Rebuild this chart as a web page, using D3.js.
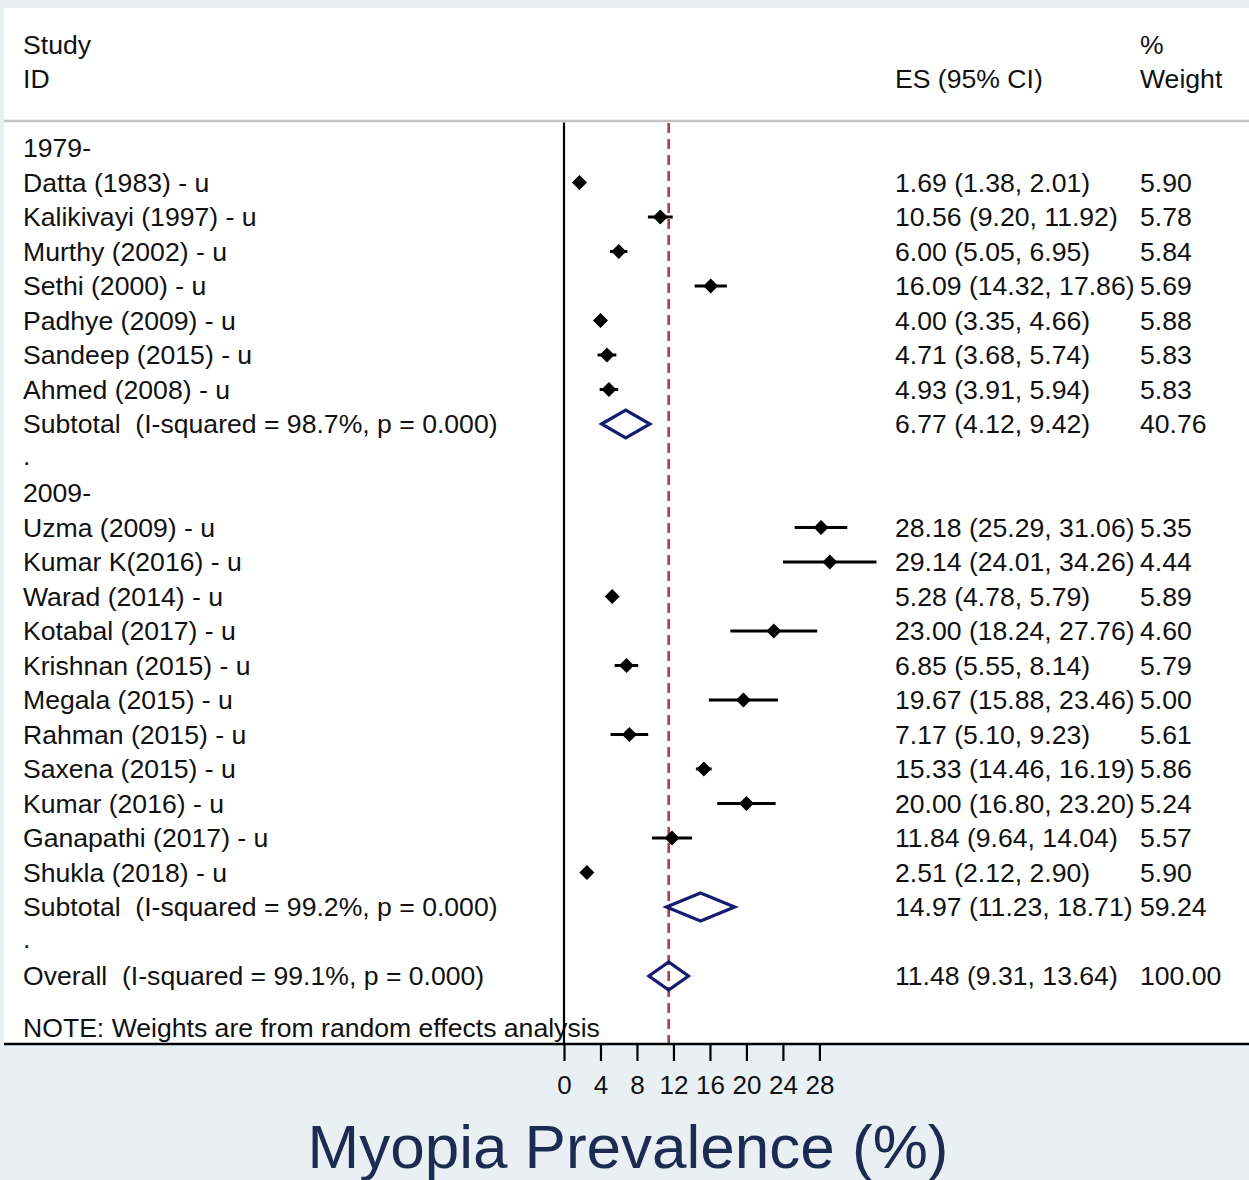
<!DOCTYPE html>
<html>
<head>
<meta charset="utf-8">
<script src="https://cdn.jsdelivr.net/npm/d3@7"></script>
<style>
html,body{margin:0;padding:0;background:#e8f0f3;}
svg{display:block;}
text{font-family:"Liberation Sans",Arial,sans-serif;fill:#111;white-space:pre;}
</style>
</head>
<body>
<svg id="chart" width="1249" height="1180"></svg>
<script>
// ---- data ----
const rowLabels = [
  "1979-",
  "Datta (1983) - u",
  "Kalikivayi (1997) - u",
  "Murthy (2002) - u",
  "Sethi (2000) - u",
  "Padhye (2009) - u",
  "Sandeep (2015) - u",
  "Ahmed (2008) - u",
  "Subtotal  (I-squared = 98.7%, p = 0.000)",
  ".",
  "2009-",
  "Uzma (2009) - u",
  "Kumar K(2016) - u",
  "Warad (2014) - u",
  "Kotabal (2017) - u",
  "Krishnan (2015) - u",
  "Megala (2015) - u",
  "Rahman (2015) - u",
  "Saxena (2015) - u",
  "Kumar (2016) - u",
  "Ganapathi (2017) - u",
  "Shukla (2018) - u",
  "Subtotal  (I-squared = 99.2%, p = 0.000)",
  ".",
  "Overall  (I-squared = 99.1%, p = 0.000)"
];
// type: h = heading, s = study, d = subtotal/overall diamond, b = blank
const rowTypes = ["h","s","s","s","s","s","s","s","d","b","h","s","s","s","s","s","s","s","s","s","s","s","d","b","d"];
const esValues  = [null,1.69,10.56,6.00,16.09,4.00,4.71,4.93,6.77,null,null,28.18,29.14,5.28,23.00,6.85,19.67,7.17,15.33,20.00,11.84,2.51,14.97,null,11.48];
const ciLower   = [null,1.38,9.20,5.05,14.32,3.35,3.68,3.91,4.12,null,null,25.29,24.01,4.78,18.24,5.55,15.88,5.10,14.46,16.80,9.64,2.12,11.23,null,9.31];
const ciUpper   = [null,2.01,11.92,6.95,17.86,4.66,5.74,5.94,9.42,null,null,31.06,34.26,5.79,27.76,8.14,23.46,9.23,16.19,23.20,14.04,2.90,18.71,null,13.64];
const weights   = [null,5.90,5.78,5.84,5.69,5.88,5.83,5.83,40.76,null,null,5.35,4.44,5.89,4.60,5.79,5.00,5.61,5.86,5.24,5.57,5.90,59.24,null,100.00];
const overallES = 11.48;
const xTicks = [0,4,8,12,16,20,24,28];
const noteText = "NOTE: Weights are from random effects analysis";
const axisTitle = "Myopia Prevalence (%)";

// ---- layout ----
const svg = d3.select("#chart");
const W = 1249, H = 1180;
const fs = 26.6;
const panelTop = 8, panelLeft = 4, axisY = 1044, sepY = 121;

const x = d3.scaleLinear().domain([0, 28]).range([564, 819.4]);
const y = d3.scaleLinear().domain([0, 24]).range([148, 976]);
const f2 = d3.format(".2f");

// panel
svg.append("rect").attr("x", panelLeft).attr("y", panelTop)
  .attr("width", W - panelLeft).attr("height", axisY - panelTop).attr("fill", "#fff");

// header separator
svg.append("line").attr("x1", panelLeft).attr("x2", W).attr("y1", sepY).attr("y2", sepY)
  .attr("stroke", "#c4c4c4").attr("stroke-width", 2.5);

// headers
const hdr = [
  {t:"Study", x:23, y:45}, {t:"ID", x:23, y:79},
  {t:"ES (95% CI)", x:895, y:79},
  {t:"%", x:1140, y:45}, {t:"Weight", x:1140, y:79}
];
svg.append("g").selectAll("text").data(hdr).join("text")
  .attr("x", d => d.x).attr("y", d => d.y + 9).attr("font-size", fs).text(d => d.t);

// row indices
const idx = d3.range(rowLabels.length);

// labels
svg.append("g").selectAll("text").data(idx).join("text")
  .attr("x", 23).attr("y", i => y(i) + 9 - (rowTypes[i] === "b" ? 3 : 0))
  .attr("xml:space", "preserve")
  .attr("font-size", fs).text(i => rowLabels[i]);

// ES text and weight
const dataIdx = idx.filter(i => esValues[i] !== null);
svg.append("g").selectAll("text").data(dataIdx).join("text")
  .attr("x", 895).attr("y", i => y(i) + 9).attr("font-size", fs)
  .text(i => `${f2(esValues[i])} (${f2(ciLower[i])}, ${f2(ciUpper[i])})`);
svg.append("g").selectAll("text").data(dataIdx).join("text")
  .attr("x", 1140).attr("y", i => y(i) + 9).attr("font-size", fs)
  .text(i => f2(weights[i]));

// note
svg.append("text").attr("x", 23).attr("y", 1028 + 9).attr("font-size", fs).text(noteText);

// vertical zero line
svg.append("line").attr("x1", x(0)).attr("x2", x(0)).attr("y1", sepY + 1.5).attr("y2", axisY)
  .attr("stroke", "#000").attr("stroke-width", 2.2);

// overall dashed line
svg.append("line").attr("x1", x(overallES)).attr("x2", x(overallES)).attr("y1", sepY + 2).attr("y2", axisY)
  .attr("stroke", "#a3404a").attr("stroke-width", 2.6).attr("stroke-dasharray", "10,6");

// study CIs and markers
const studyIdx = idx.filter(i => rowTypes[i] === "s");
svg.append("g").selectAll("line").data(studyIdx).join("line")
  .attr("x1", i => x(ciLower[i])).attr("x2", i => x(ciUpper[i]))
  .attr("y1", i => y(i)).attr("y2", i => y(i))
  .attr("stroke", "#000").attr("stroke-width", 3);
const dm = 7.5;
svg.append("g").selectAll("path").data(studyIdx).join("path")
  .attr("d", i => {
    const cx = x(esValues[i]), cy = y(i);
    return `M${cx - dm},${cy}L${cx},${cy - dm}L${cx + dm},${cy}L${cx},${cy + dm}Z`;
  })
  .attr("fill", "#000");

// pooled diamonds
const poolIdx = idx.filter(i => rowTypes[i] === "d");
const dh = 14;
svg.append("g").selectAll("path").data(poolIdx).join("path")
  .attr("d", i => {
    const cy = y(i);
    return `M${x(ciLower[i])},${cy}L${x(esValues[i])},${cy - dh}L${x(ciUpper[i])},${cy}L${x(esValues[i])},${cy + dh}Z`;
  })
  .attr("fill", "none").attr("stroke", "#161a72").attr("stroke-width", 3.2).attr("stroke-linejoin", "miter");

// axis
svg.append("line").attr("x1", panelLeft).attr("x2", W).attr("y1", axisY).attr("y2", axisY)
  .attr("stroke", "#000").attr("stroke-width", 2.5);
const axisG = svg.append("g").attr("transform", `translate(0,${axisY})`)
  .call(d3.axisBottom(x).tickValues(xTicks).tickSize(17).tickPadding(15).tickFormat(d3.format("d")));
axisG.select(".domain").remove();
axisG.selectAll(".tick line").attr("stroke", "#000").attr("stroke-width", 2.2);
axisG.selectAll(".tick text").attr("font-size", 26).attr("fill", "#111")
  .attr("font-family", "Liberation Sans, Arial, sans-serif");

// title
svg.append("text").attr("x", 628).attr("y", 1168).attr("text-anchor", "middle")
  .attr("font-size", 62).style("fill", "#1c2b50").text(axisTitle);
</script>
</body>
</html>
